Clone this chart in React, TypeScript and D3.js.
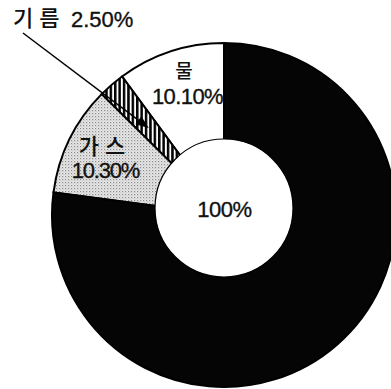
import React from "react";
import * as d3 from "d3";

const categories = ["물", "기름", "가스", "기타"];
const values = [10.1, 2.5, 10.3, 77.1];
const valueLabels = ["10.10%", "2.50%", "10.30%", ""];
const centerLabel = "100%";

const W = 391;
const H = 389;
const cx = 224;
const cy = 215;
const outerR = 172;
const innerCx = 224;
const innerCy = 208;
const innerR = 69;

const fills = ["#ffffff", "url(#hatch)", "url(#dots)", "#050505"];

export default function App() {
  const pie = d3
    .pie<number>()
    .sort(null)
    .startAngle(0)
    .endAngle(-2 * Math.PI)
    .value((d) => d);
  const arcs = pie(values);
  const arc = d3.arc<d3.PieArcDatum<number>>().innerRadius(0).outerRadius(outerR);
  const latin = "'Liberation Sans', Arial, sans-serif";
  const kr = "'Noto Sans CJK KR', sans-serif";

  // arrow for 기름
  const oil = arcs[1];
  const midA = (oil.startAngle + oil.endAngle) / 2;
  const tipR = 115;
  const tipX = cx + tipR * Math.sin(midA);
  const tipY = cy - tipR * Math.cos(midA);
  const startX = 23;
  const startY = 33;
  const ang = Math.atan2(tipY - startY, tipX - startX);
  const headL = 13;
  const headW = 5;
  const bx = tipX - headL * Math.cos(ang);
  const by = tipY - headL * Math.sin(ang);
  const head = [
    [tipX, tipY],
    [bx + headW * Math.sin(ang), by - headW * Math.cos(ang)],
    [bx - headW * Math.sin(ang), by + headW * Math.cos(ang)],
  ];

  const numStyle = { stroke: "#111", strokeWidth: 0.35 };

  return (
    <svg width={W} height={H} style={{ position: "absolute", left: 0, top: 0 }}>
      <defs>
        <pattern id="hatch" width="4.4" height="10" patternUnits="userSpaceOnUse">
          <rect width="4.4" height="10" fill="#fff" />
          <rect x="0" width="2.5" height="10" fill="#000" />
        </pattern>
        <pattern id="dots" width="3" height="3" patternUnits="userSpaceOnUse">
          <rect width="3" height="3" fill="#e8e8e8" />
          <rect x="0" y="0" width="1.2" height="1.2" fill="#8a8a8a" />
          <rect x="1.5" y="1.5" width="1" height="1" fill="#b0b0b0" />
        </pattern>
      </defs>
      <rect width={W} height={H} fill="#fff" />
      <g transform={`translate(${cx},${cy})`}>
        {arcs.map((a, i) => (
          <path
            key={categories[i]}
            d={arc(a) || ""}
            fill={fills[i]}
            stroke="#000"
            strokeWidth={2}
          />
        ))}
      </g>
      <circle cx={innerCx} cy={innerCy} r={innerR} fill="#fff" stroke="#000" strokeWidth={1.2} />
      <text x={224.5} y={217} textAnchor="middle" fontFamily={latin} fontSize={22} fill="#111" letterSpacing={-0.5} style={numStyle}>
        {centerLabel}
      </text>
      {/* 물 */}
      <text x={184} y={78} textAnchor="middle" fontFamily={kr} fontSize={19} fontWeight={500} fill="#111">
        {categories[0]}
      </text>
      <text x={187.5} y={104} textAnchor="middle" fontFamily={latin} fontSize={22} fill="#111" letterSpacing={-0.6} style={numStyle}>
        {valueLabels[0]}
      </text>
      {/* 가스 */}
      <text x={105} y={154} textAnchor="middle" fontFamily={kr} fontSize={22} fontWeight={500} fill="#111" letterSpacing={6}>
        {categories[2]}
      </text>
      <text x={105.5} y={178} textAnchor="middle" fontFamily={latin} fontSize={22} fill="#111" letterSpacing={-1.2} style={numStyle}>
        {valueLabels[2]}
      </text>
      {/* 기름 */}
      <text x={13} y={26} fontFamily={kr} fontSize={22} fontWeight={500} fill="#111" letterSpacing={6}>
        {categories[1]}
      </text>
      <text x={71} y={27} fontFamily={latin} fontSize={22} fill="#111" style={numStyle}>
        {valueLabels[1]}
      </text>
      <line x1={startX} y1={startY} x2={bx} y2={by} stroke="#000" strokeWidth={1.5} />
      <polygon points={head.map((p) => p.join(",")).join(" ")} fill="#000" />
    </svg>
  );
}
